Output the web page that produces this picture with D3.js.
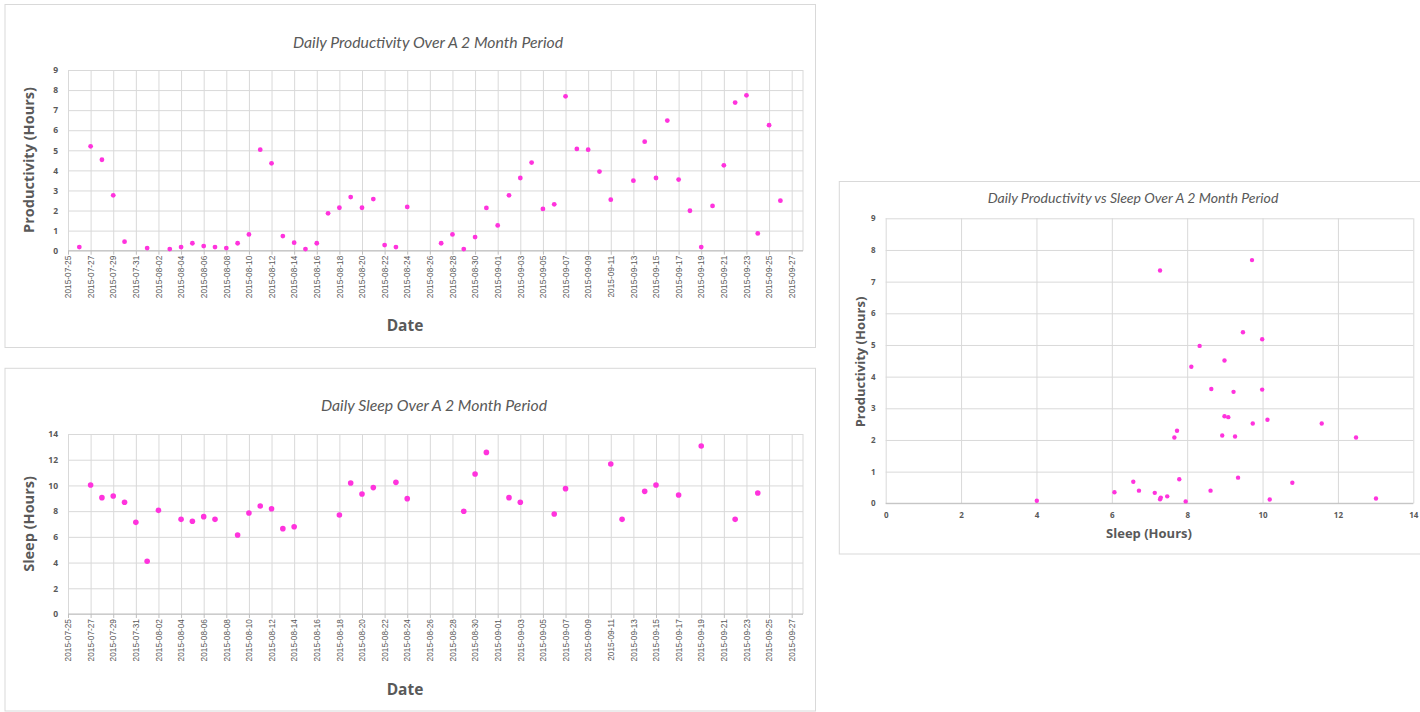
<!DOCTYPE html>
<html>
<head>
<meta charset="utf-8">
<script src="https://cdn.jsdelivr.net/npm/d3@7"></script>
<style>
  html, body { margin: 0; padding: 0; background: #fff; }
  svg { display: block; }
</style>
</head>
<body>
<svg id="chart" width="1420" height="712"></svg>
<script>
// Daily productivity (hours), one reading per logged day
const prodDates = [
  "2015-07-26","2015-07-27","2015-07-28","2015-07-29","2015-07-30","2015-08-01","2015-08-03",
  "2015-08-04","2015-08-05","2015-08-06","2015-08-07","2015-08-08","2015-08-09","2015-08-10",
  "2015-08-11","2015-08-12","2015-08-13","2015-08-14","2015-08-15","2015-08-16","2015-08-17",
  "2015-08-18","2015-08-19","2015-08-20","2015-08-21","2015-08-22","2015-08-23","2015-08-24",
  "2015-08-27","2015-08-28","2015-08-29","2015-08-30","2015-08-31","2015-09-01","2015-09-02",
  "2015-09-03","2015-09-04","2015-09-05","2015-09-06","2015-09-07","2015-09-08","2015-09-09",
  "2015-09-10","2015-09-11","2015-09-13","2015-09-14","2015-09-15","2015-09-16","2015-09-17",
  "2015-09-18","2015-09-19","2015-09-20","2015-09-21","2015-09-22","2015-09-23","2015-09-24",
  "2015-09-25","2015-09-26"
];
const prodHours = [
  0.18, 5.2, 4.53, 2.76, 0.45, 0.13, 0.08,
  0.18, 0.37, 0.23, 0.18, 0.13, 0.37, 0.81,
  5.03, 4.35, 0.73, 0.40, 0.08, 0.37, 1.86,
  2.14, 2.67, 2.14, 2.57, 0.28, 0.18, 2.18,
  0.37, 0.81, 0.08, 0.68, 2.13, 1.26, 2.76,
  3.62, 4.39, 2.08, 2.31, 7.69, 5.07, 5.03,
  3.94, 2.54, 3.49, 5.43, 3.62, 6.48, 3.54,
  1.99, 0.18, 2.23, 4.25, 7.38, 7.74, 0.86,
  6.25, 2.49
];

// Daily sleep (hours)
const sleepDates = [
  "2015-07-27","2015-07-28","2015-07-29","2015-07-30","2015-07-31","2015-08-01","2015-08-02",
  "2015-08-04","2015-08-05","2015-08-06","2015-08-07","2015-08-09","2015-08-10","2015-08-11",
  "2015-08-12","2015-08-13","2015-08-14","2015-08-18","2015-08-19","2015-08-20","2015-08-21",
  "2015-08-23","2015-08-24","2015-08-29","2015-08-30","2015-08-31","2015-09-02","2015-09-03",
  "2015-09-06","2015-09-07","2015-09-11","2015-09-12","2015-09-14","2015-09-15","2015-09-17",
  "2015-09-19","2015-09-22","2015-09-24"
];
const sleepHours = [
  10.03, 9.05, 9.18, 8.69, 7.13, 4.10, 8.06,
  7.36, 7.21, 7.57, 7.36, 6.14, 7.86, 8.40,
  8.19, 6.64, 6.79, 7.70, 10.19, 9.33, 9.83,
  10.24, 8.97, 7.99, 10.89, 12.57, 9.05, 8.69,
  7.78, 9.75, 11.67, 7.36, 9.54, 10.03, 9.26,
  13.07, 7.36, 9.41
];

// Productivity against sleep pairs
const pairSleep = [
  4.01, 6.07, 6.57, 6.72, 7.14, 7.28, 7.30, 7.47, 7.28, 7.66, 7.73, 7.79,
  7.96, 8.11, 8.33, 8.62, 8.64, 8.93, 8.99, 8.99, 9.09, 9.23, 9.27, 9.35,
  9.48, 9.72, 9.74, 9.99, 9.99, 10.13, 10.19, 10.79, 11.57, 12.48, 13.01
];
const pairProd = [
  0.08, 0.35, 0.68, 0.40, 0.33, 0.13, 0.18, 0.22, 7.35, 2.08, 2.29, 0.76,
  0.06, 4.31, 4.97, 0.40, 3.61, 2.14, 4.51, 2.75, 2.72, 3.52, 2.11, 0.81,
  5.40, 7.68, 2.52, 5.18, 3.59, 2.64, 0.12, 0.65, 2.52, 2.08, 0.15
];

// Axis ticks
const prodTicks = [0, 1, 2, 3, 4, 5, 6, 7, 8, 9];
const sleepTicks = [0, 2, 4, 6, 8, 10, 12, 14];
const pairXTicks = [0, 2, 4, 6, 8, 10, 12, 14];
const pairYTicks = [0, 1, 2, 3, 4, 5, 6, 7, 8, 9];
const dateStart = "2015-07-25";
const dateEnd = "2015-09-28";

const parse = d3.utcParse("%Y-%m-%d");
const fmt = d3.utcFormat("%Y-%m-%d");
const dateTicks = d3.utcDay.range(parse(dateStart), parse(dateEnd), 2);

const GRID = "#d9d9d9", AXIS = "#bfbfbf", TEXT = "#595959", DOT = "#ff33dd";
const svg = d3.select("#chart");

function frame(x, y, w, h) {
  svg.append("rect").attr("x", x).attr("y", y).attr("width", w).attr("height", h)
    .attr("fill", "#fff").attr("stroke", GRID).attr("stroke-width", 1);
}

function title(text, x, y, size) {
  svg.append("text").attr("x", x).attr("y", y).attr("text-anchor", "middle")
    .attr("font-family", "Lato, 'Open Sans', sans-serif").attr("font-style", "italic")
    .attr("font-size", size).attr("fill", TEXT).text(text);
}

function axisTitle(text, x, y, size, rotate) {
  svg.append("text")
    .attr("transform", `translate(${x},${y})` + (rotate ? " rotate(-90)" : ""))
    .attr("text-anchor", "middle")
    .attr("font-family", "'Open Sans', Lato, sans-serif").attr("font-weight", "bold")
    .attr("font-size", size).attr("fill", TEXT).text(text);
}

// Time-series panel: dots per day against a two-day date axis
function timePanel(p) {
  const x = d3.scaleUtc().domain([parse(dateStart), parse(dateEnd)]).range([p.l, p.r]);
  const y = d3.scaleLinear().domain([0, d3.max(p.yTicks)]).range([p.b, p.t]);
  const g = svg.append("g");

  // horizontal gridlines
  g.append("g").attr("transform", `translate(${p.l},0)`)
    .call(d3.axisLeft(y).tickValues(p.yTicks).tickSize(-(p.r - p.l)).tickFormat(""))
    .call(s => s.select(".domain").remove())
    .call(s => s.selectAll("line").attr("stroke", GRID));
  // vertical gridlines
  g.append("g").attr("transform", `translate(0,${p.b})`)
    .call(d3.axisBottom(x).tickValues(dateTicks).tickSize(-(p.b - p.t)).tickFormat(""))
    .call(s => s.select(".domain").remove())
    .call(s => s.selectAll("line").attr("stroke", GRID));
  g.append("line").attr("x1", p.r).attr("x2", p.r).attr("y1", p.t).attr("y2", p.b).attr("stroke", GRID);

  // y tick labels
  g.append("g").attr("transform", `translate(${p.l},0)`)
    .call(d3.axisLeft(y).tickValues(p.yTicks).tickSize(0).tickPadding(10))
    .call(s => s.select(".domain").remove())
    .call(s => s.selectAll("text").attr("fill", TEXT).attr("font-size", 8.5)
      .attr("font-weight", "bold").attr("font-family", "'Open Sans', Lato, sans-serif"));

  // date axis with rotated labels
  const ax = g.append("g").attr("transform", `translate(0,${p.b})`)
    .call(d3.axisBottom(x).tickValues(dateTicks).tickSize(4).tickSizeOuter(0).tickFormat(fmt));
  ax.select(".domain").attr("stroke", AXIS).attr("d", `M${p.l},0H${p.r}`);
  ax.selectAll("line").attr("stroke", AXIS);
  ax.selectAll("text")
    .attr("fill", TEXT).attr("font-size", 8.3).attr("font-family", "'Liberation Sans', Arial, sans-serif")
    .attr("text-anchor", "end").attr("dy", "0.33em").attr("y", 0).attr("x", 0)
    .attr("transform", "translate(0,5) rotate(-90)");

  // dots
  g.append("g").selectAll("circle").data(p.dates.map((d, i) => [parse(d), p.values[i]]))
    .join("circle")
    .attr("cx", d => x(d[0])).attr("cy", d => y(d[1])).attr("r", p.r0).attr("fill", DOT);
}

// Top panel: productivity over time
frame(5, 4.5, 810.5, 343);
title("Daily Productivity Over A 2 Month Period", 428, 48, 15.8);
axisTitle("Productivity (Hours)", 34, 160, 14.5, true);
axisTitle("Date", 405, 331, 15.5, false);
timePanel({ l: 68, r: 803, t: 70, b: 250.7, yTicks: prodTicks, dates: prodDates, values: prodHours, r0: 2.4 });

// Bottom panel: sleep over time
frame(5, 368.3, 810.5, 342.7);
title("Daily Sleep Over A 2 Month Period", 434, 411, 15.8);
axisTitle("Sleep (Hours)", 34, 524, 14.5, true);
axisTitle("Date", 405, 695, 15.5, false);
timePanel({ l: 68, r: 803, t: 434, b: 614, yTicks: sleepTicks, dates: sleepDates, values: sleepHours, r0: 2.8 });

// Right panel: productivity vs sleep
(function () {
  const p = { l: 885.7, r: 1413.3, t: 218.3, b: 503.3 };
  frame(839.3, 181.5, 585, 372.5);
  title("Daily Productivity vs Sleep Over A 2 Month Period", 1133, 203, 14.1);
  axisTitle("Productivity (Hours)", 865, 362, 13, true);
  axisTitle("Sleep (Hours)", 1149, 538, 13, false);

  const x = d3.scaleLinear().domain([0, 14]).range([p.l, p.r]);
  const y = d3.scaleLinear().domain([0, 9]).range([p.b, p.t]);
  const g = svg.append("g");

  g.append("g").attr("transform", `translate(${p.l},0)`)
    .call(d3.axisLeft(y).tickValues(pairYTicks).tickSize(-(p.r - p.l)).tickFormat(""))
    .call(s => s.select(".domain").remove())
    .call(s => s.selectAll("line").attr("stroke", GRID));
  g.append("g").attr("transform", `translate(0,${p.b})`)
    .call(d3.axisBottom(x).tickValues(pairXTicks).tickSize(-(p.b - p.t)).tickFormat(""))
    .call(s => s.select(".domain").remove())
    .call(s => s.selectAll("line").attr("stroke", GRID));
  g.append("line").attr("x1", p.l).attr("x2", p.r).attr("y1", p.b).attr("y2", p.b).attr("stroke", AXIS);

  g.append("g").attr("transform", `translate(${p.l},0)`)
    .call(d3.axisLeft(y).tickValues(pairYTicks).tickSize(0).tickPadding(10))
    .call(s => s.select(".domain").remove())
    .call(s => s.selectAll("text").attr("fill", TEXT).attr("font-size", 8)
      .attr("font-weight", "bold").attr("font-family", "'Open Sans', Lato, sans-serif"));
  g.append("g").attr("transform", `translate(0,${p.b})`)
    .call(d3.axisBottom(x).tickValues(pairXTicks).tickSize(0).tickPadding(9))
    .call(s => s.select(".domain").remove())
    .call(s => s.selectAll("text").attr("fill", TEXT).attr("font-size", 8)
      .attr("font-weight", "bold").attr("font-family", "'Open Sans', Lato, sans-serif"));

  g.append("g").selectAll("circle").data(pairSleep.map((s, i) => [s, pairProd[i]]))
    .join("circle")
    .attr("cx", d => x(d[0])).attr("cy", d => y(d[1])).attr("r", 2.2).attr("fill", DOT);
})();
</script>
</body>
</html>
